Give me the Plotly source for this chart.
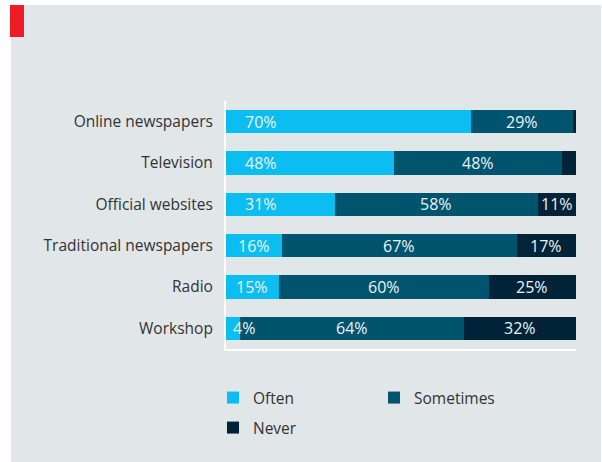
import plotly.graph_objects as go

categories = ["Online newspapers", "Television", "Official websites",
              "Traditional newspapers", "Radio", "Workshop"]
often = [70, 48, 31, 16, 15, 4]
sometimes = [29, 48, 58, 67, 60, 64]
never = [1, 4, 11, 17, 25, 32]
never_labels = ["", "", "11%", "17%", "25%", "32%"]

C_OFTEN = "#0bbdf0"
C_SOME = "#00546e"
C_NEVER = "#002338"
BG = "#e1e6e9"
FONT = "Open Sans"

W, H = 602, 462
L, R, T, B = 226, 26, 101, 113
PW, PH = W - L - R, H - T - B


def px(x):
    return (x - L) / PW


def py(y):
    return (H - B - y) / PH


fig = go.Figure()
for name, vals, col, leg in [("Often", often, C_OFTEN, "legend"),
                             ("Sometimes", sometimes, C_SOME, "legend"),
                             ("Never", never, C_NEVER, "legend2")]:
    fig.add_trace(go.Bar(y=categories, x=vals, name=name, orientation="h",
                         marker=dict(color=col, line=dict(width=0)),
                         hoverinfo="skip", legend=leg))

ann = []
lab_font = dict(family=FONT, size=16, color="#eef3f6")
for i, c in enumerate(categories):
    ann.append(dict(x=min(max(often[i] / 2, 5), 10), y=c, text=f"{often[i]}%", showarrow=False,
                    xref="x", yref="y", font=lab_font))
    ann.append(dict(x=often[i] + sometimes[i] / 2, y=c, text=f"{sometimes[i]}%", showarrow=False,
                    xref="x", yref="y", font=lab_font))
    if never_labels[i]:
        ann.append(dict(x=often[i] + sometimes[i] + never[i] / 2, y=c, text=never_labels[i],
                        showarrow=False, xref="x", yref="y", font=lab_font))

leg_font = dict(family=FONT, size=15.5, color="#333333")
fig.update_layout(
    width=W, height=H,
    barmode="stack", bargap=0.44,
    paper_bgcolor="white", plot_bgcolor=BG,
    margin=dict(l=L, r=R, t=T, b=B),
    font=dict(family=FONT, size=15, color="#333333"),
    xaxis=dict(range=[0, 100], showgrid=False, zeroline=False, showticklabels=False,
               showline=True, linecolor="white", linewidth=2, ticks=""),
    yaxis=dict(autorange="reversed", showgrid=False, zeroline=False,
               showline=True, linecolor="white", linewidth=2, ticks="outside",
               ticklen=8, tickcolor="rgba(0,0,0,0)",
               tickfont=dict(family=FONT, size=15.5, color="#333333")),
    legend=dict(orientation="h", x=px(213), xanchor="left", y=py(381), yanchor="top",
                entrywidth=116, entrywidthmode="pixels", traceorder="normal",
                font=leg_font, bgcolor="rgba(0,0,0,0)"),
    legend2=dict(orientation="h", x=px(213), xanchor="left", y=py(411), yanchor="top",
                 font=leg_font, bgcolor="rgba(0,0,0,0)"),
    annotations=ann,
    shapes=[
        dict(type="rect", xref="paper", yref="paper", x0=px(11), x1=px(601), y0=py(462),
             y1=py(5), fillcolor=BG, line=dict(width=0), layer="below"),
        dict(type="rect", xref="paper", yref="paper", x0=px(10), x1=px(24),
             y0=py(37), y1=py(5), fillcolor="#ee1c25", line=dict(width=0)),
    ],
    showlegend=True,
)

fig.write_html("out.html")
